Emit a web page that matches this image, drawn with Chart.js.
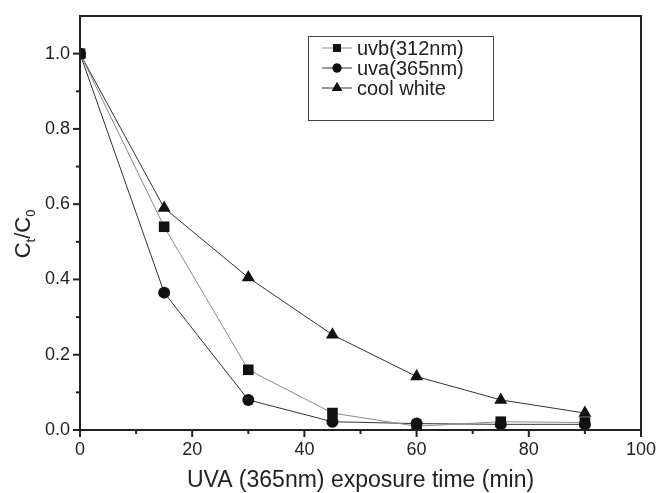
<!DOCTYPE html>
<html>
<head>
<meta charset="utf-8">
<script src="https://cdn.jsdelivr.net/npm/chart.js@4"></script>
<style>
  html, body { margin: 0; padding: 0; background: #fff; }
  #wrap { width: 658px; height: 493px; }
</style>
</head>
<body>
<div id="wrap"><canvas id="decayChart" width="658" height="493"></canvas></div>
<script>
// exposure times (min)
const times = [0, 15, 30, 45, 60, 75, 90];
// C_t/C_0 for each lamp
const uvb312 = [1.0, 0.54, 0.16, 0.045, 0.01, 0.022, 0.02];
const uva365 = [1.0, 0.365, 0.08, 0.022, 0.017, 0.015, 0.015];
const coolWhite = [1.0, 0.59, 0.405, 0.253, 0.142, 0.08, 0.045];
const seriesNames = ['uvb(312nm)', 'uva(365nm)', 'cool white'];
const xLabels = [0, 20, 40, 60, 80, 100];
const yLabels = [0.0, 0.2, 0.4, 0.6, 0.8, 1.0];

const FONT = '"Liberation Sans", Arial, sans-serif';

function toPoints(vals) {
  return times.map((t, i) => ({ x: t, y: vals[i] }));
}

// frame, minor/major ticks, axis titles and boxed legend
const decorPlugin = {
  id: 'decor',
  afterDraw(chart) {
    const ctx = chart.ctx;
    const a = chart.chartArea;
    const xs = chart.scales.x, ys = chart.scales.y;
    ctx.save();
    ctx.strokeStyle = '#222';
    ctx.lineWidth = 2;
    ctx.strokeRect(a.left, a.top, a.right - a.left, a.bottom - a.top);

    // ticks pointing outward
    for (let v = 0; v <= 100; v += 10) {
      const px = xs.getPixelForValue(v);
      const len = (v % 20 === 0) ? 7 : 4;
      ctx.beginPath();
      ctx.moveTo(px, a.bottom);
      ctx.lineTo(px, a.bottom + len);
      ctx.stroke();
    }
    for (let k = 0; k <= 10; k++) {
      const py = ys.getPixelForValue(k / 10);
      const len = (k % 2 === 0) ? 7 : 4;
      ctx.beginPath();
      ctx.moveTo(a.left, py);
      ctx.lineTo(a.left - len, py);
      ctx.stroke();
    }

    // x title
    ctx.fillStyle = '#222';
    ctx.font = '23px ' + FONT;
    ctx.textAlign = 'center';
    ctx.textBaseline = 'middle';
    ctx.fillText('UVA (365nm) exposure time (min)', (a.left + a.right) / 2, 481);

    // y title with subscripts
    ctx.save();
    ctx.translate(22, 234);
    ctx.rotate(-Math.PI / 2);
    ctx.textAlign = 'left';
    ctx.textBaseline = 'alphabetic';
    const parts = [['C', 22, 0], ['t', 13, 5], ['/C', 22, 0], ['0', 13, 5]];
    let total = 0;
    parts.forEach(p => { ctx.font = p[1] + 'px ' + FONT; total += ctx.measureText(p[0]).width; });
    let cx = -total / 2;
    parts.forEach(p => {
      ctx.font = p[1] + 'px ' + FONT;
      ctx.fillText(p[0], cx, 8 + p[2]);
      cx += ctx.measureText(p[0]).width;
    });
    ctx.restore();

    // legend box
    ctx.lineWidth = 1;
    ctx.strokeStyle = '#444';
    ctx.strokeRect(308.5, 36.5, 185, 84);
    ctx.font = '20px ' + FONT;
    ctx.textAlign = 'left';
    ctx.textBaseline = 'middle';
    chart.data.datasets.forEach((ds, i) => {
      const y = 48 + i * 20;
      ctx.strokeStyle = ds.borderColor;
      ctx.beginPath();
      ctx.moveTo(322, y);
      ctx.lineTo(352, y);
      ctx.stroke();
      Chart.helpers.drawPoint(ctx, {
        pointStyle: ds.pointStyle, radius: ds.legendRadius, rotation: 0, borderWidth: 0
      }, 337, y);
      ctx.fillStyle = '#111';
      ctx.fill();
      ctx.fillStyle = '#222';
      ctx.fillText(ds.label, 357, y + 1);
    });
    ctx.restore();
  }
};

const ctx = document.getElementById('decayChart').getContext('2d');
const decayChart = new Chart(ctx, {
  type: 'line',
  data: {
    datasets: [
      { label: seriesNames[0], data: toPoints(uvb312), borderColor: '#8a8a8a', pointStyle: 'rect', pointRadius: 7.5, legendRadius: 5.5 },
      { label: seriesNames[1], data: toPoints(uva365), borderColor: '#333', pointStyle: 'circle', pointRadius: 6, legendRadius: 4.5 },
      { label: seriesNames[2], data: toPoints(coolWhite), borderColor: '#333', pointStyle: 'triangle', pointRadius: 7.5, legendRadius: 6 }
    ].map(d => Object.assign(d, {
      borderWidth: 1,
      pointBackgroundColor: '#111',
      pointBorderColor: '#111',
      pointBorderWidth: 0,
      tension: 0,
      fill: false
    }))
  },
  options: {
    responsive: false,
    animation: false,
    layout: { padding: { top: 16, right: 17, left: 0, bottom: 0 } },
    plugins: { legend: { display: false }, tooltip: { enabled: false } },
    scales: {
      x: {
        type: 'linear', min: 0, max: 100,
        grid: { display: false, drawTicks: false },
        border: { display: false },
        ticks: {
          stepSize: 20, padding: 9, color: '#222',
          font: { family: FONT, size: 18 },
          callback: v => xLabels.includes(v) ? String(v) : ''
        },
        afterFit: s => { s.height = 63; s.paddingLeft = 0; s.paddingRight = 0; }
      },
      y: {
        type: 'linear', min: 0, max: 1.1,
        grid: { display: false, drawTicks: false },
        border: { display: false },
        ticks: {
          stepSize: 0.2, padding: 10, color: '#222',
          font: { family: FONT, size: 18 },
          callback: v => {
            const r = Math.round(v * 10) / 10;
            return yLabels.some(l => Math.abs(l - r) < 1e-6) ? r.toFixed(1) : '';
          }
        },
        afterFit: s => { s.width = 80; s.paddingTop = 0; s.paddingBottom = 0; }
      }
    }
  },
  plugins: [decorPlugin]
});
</script>
</body>
</html>
